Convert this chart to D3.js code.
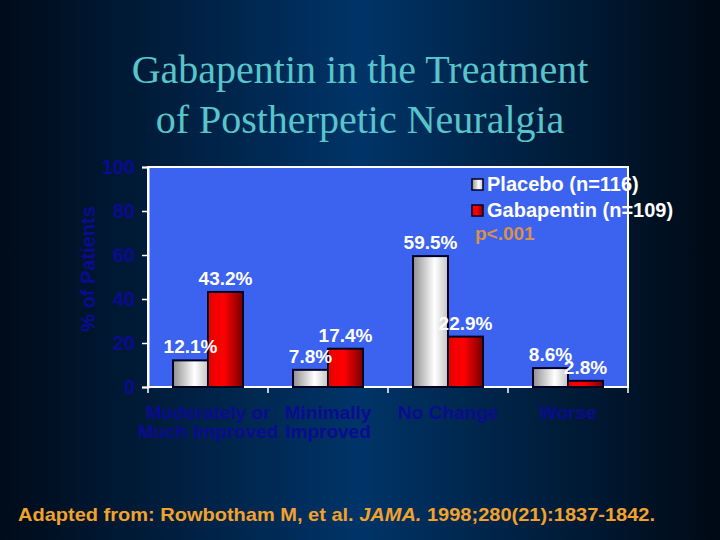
<!DOCTYPE html>
<html><head><meta charset="utf-8">
<script src="https://cdn.jsdelivr.net/npm/d3@7"></script>
<style>html,body{margin:0;padding:0;background:#001a33;}svg{display:block;}</style>
</head><body>
<script>
const categories = ["Moderately or Much Improved", "Minimally Improved", "No Change", "Worse"];
const categoryLines = [["Moderately or", "Much Improved"], ["Minimally", "Improved"], ["No Change"], ["Worse"]];
const series = ["Placebo (n=116)", "Gabapentin (n=109)"];
const placebo = [12.1, 7.8, 59.5, 8.6];
const gabapentin = [43.2, 17.4, 22.9, 2.8];
const yTicks = [0, 20, 40, 60, 80, 100];
const titleLines = ["Gabapentin in the Treatment", "of Postherpetic Neuralgia"];

(function () {
const W = 720, H = 540;
const svg = d3.select("body").append("svg").attr("width", W).attr("height", H);
const defs = svg.append("defs");

const bg = defs.append("linearGradient").attr("id", "bg").attr("x1", "0").attr("x2", "1").attr("y1", "0").attr("y2", "0");
bg.append("stop").attr("offset", "0%").attr("stop-color", "#000b19");
bg.append("stop").attr("offset", "50%").attr("stop-color", "#003468");
bg.append("stop").attr("offset", "100%").attr("stop-color", "#000914");

const gp = defs.append("linearGradient").attr("id", "gp").attr("x1", "0").attr("x2", "1");
gp.append("stop").attr("offset", "0%").attr("stop-color", "#8f8f8f");
gp.append("stop").attr("offset", "62%").attr("stop-color", "#ffffff");
gp.append("stop").attr("offset", "100%").attr("stop-color", "#c4c4c4");

const gr = defs.append("linearGradient").attr("id", "gr").attr("x1", "0").attr("x2", "1");
gr.append("stop").attr("offset", "0%").attr("stop-color", "#e80000");
gr.append("stop").attr("offset", "45%").attr("stop-color", "#ff0000");
gr.append("stop").attr("offset", "100%").attr("stop-color", "#780000");

svg.append("rect").attr("width", W).attr("height", H).attr("fill", "url(#bg)");

// title
svg.append("g").selectAll("text").data(titleLines).join("text")
  .attr("x", 360).attr("y", (d, i) => 83 + i * 50)
  .attr("text-anchor", "middle")
  .attr("font-family", "'Liberation Serif','Times New Roman',serif")
  .attr("font-size", 40).attr("fill", "#58c4cb")
  .text(d => d);

const pL = 148, pR = 628, pT = 167, pB = 387;
const x0 = d3.scaleBand().domain(categories).range([pL, pR]);
const x1 = d3.scaleBand().domain(series).range([25, 95]);
const y = d3.scaleLinear().domain([0, 100]).range([pB, pT]);

svg.append("rect").attr("x", pL).attr("y", pT).attr("width", pR - pL).attr("height", pB - pT)
  .attr("fill", "#3c62f0").attr("stroke", "#ffffff").attr("stroke-width", 2);

// y axis
const yAxis = svg.append("g").attr("transform", `translate(${pL},0)`)
  .call(d3.axisLeft(y).tickValues(yTicks).tickSize(6).tickPadding(7).tickFormat(d3.format("d")));
yAxis.select(".domain").attr("stroke", "#ffffff").attr("stroke-width", 2);
yAxis.selectAll(".tick line").attr("stroke", "#ffffff").attr("stroke-width", 1.5);
yAxis.selectAll(".tick text").attr("fill", "#0b0b92")
  .attr("font-family", "'Liberation Sans',Arial,sans-serif").attr("font-weight", "bold").attr("font-size", 20);

svg.append("text")
  .attr("transform", "translate(95,269) rotate(-90)")
  .attr("text-anchor", "middle")
  .attr("font-family", "'Liberation Sans',Arial,sans-serif").attr("font-weight", "bold").attr("font-size", 20)
  .attr("fill", "#0b0b92").text("% of Patients");

// x axis baseline and ticks at band boundaries
svg.append("line").attr("x1", pL).attr("x2", pR).attr("y1", pB).attr("y2", pB)
  .attr("stroke", "#ffffff").attr("stroke-width", 2);
const bounds = categories.map(c => x0(c)).concat([x0.range()[1]]);
svg.append("g").selectAll("line").data(bounds).join("line")
  .attr("x1", d => d).attr("x2", d => d).attr("y1", pB).attr("y2", pB + 6)
  .attr("stroke", "#ffffff").attr("stroke-width", 1.5);

const xl = svg.append("g").selectAll("text").data(categories).join("text")
  .attr("x", d => x0(d) + x0.bandwidth() / 2)
  .attr("text-anchor", "middle")
  .attr("font-family", "'Liberation Sans',Arial,sans-serif").attr("font-weight", "bold").attr("font-size", 19)
  .attr("fill", "#0b0b92");
xl.each(function(d, i) {
  d3.select(this).selectAll("tspan").data(categoryLines[i]).join("tspan")
    .attr("x", x0(d) + x0.bandwidth() / 2)
    .attr("y", (t, j) => 419 + j * 19)
    .text(t => t);
});

// bars
const rows = categories.map((c, i) => ({c, vals: [placebo[i], gabapentin[i]]}));
const fills = ["url(#gp)", "url(#gr)"];
const gBars = svg.append("g");
rows.forEach(r => {
  r.vals.forEach((v, j) => {
    const xx = x0(r.c) + x1(series[j]);
    gBars.append("rect").attr("x", xx).attr("y", y(v)).attr("width", x1.bandwidth()).attr("height", y(0) - y(v))
      .attr("fill", fills[j]).attr("stroke", "#000022").attr("stroke-width", 2);
  });
});
rows.forEach(r => {
  r.vals.forEach((v, j) => {
    const xx = x0(r.c) + x1(series[j]) + x1.bandwidth() / 2;
    gBars.append("text").attr("x", xx).attr("y", y(v) - 7).attr("text-anchor", "middle")
      .attr("font-family", "'Liberation Sans',Arial,sans-serif").attr("font-weight", "bold").attr("font-size", 19)
      .attr("fill", "#ffffff").text(v.toFixed(1) + "%");
  });
});

// legend
const lg = svg.append("g");
series.forEach((s, i) => {
  lg.append("rect").attr("x", 472).attr("y", 179 + i * 26).attr("width", 11).attr("height", 11)
    .attr("fill", fills[i]).attr("stroke", "#000022").attr("stroke-width", 1.5);
  lg.append("text").attr("x", 487).attr("y", 191 + i * 26)
    .attr("font-family", "'Liberation Sans',Arial,sans-serif").attr("font-weight", "bold").attr("font-size", 20)
    .attr("fill", "#ffffff").text(s);
});
lg.append("text").attr("x", 475).attr("y", 240)
  .attr("font-family", "'Liberation Sans',Arial,sans-serif").attr("font-weight", "bold").attr("font-size", 19)
  .attr("fill", "#d8914a").text("p<.001");

// footer
const ft = svg.append("text").attr("x", 18).attr("y", 521)
  .attr("font-family", "'Liberation Sans',Arial,sans-serif").attr("font-weight", "bold").attr("font-size", 19)
  .attr("fill", "#f2a22c")
  .attr("textLength", 637).attr("lengthAdjust", "spacingAndGlyphs");
ft.append("tspan").text("Adapted from: Rowbotham M, et al. ");
ft.append("tspan").attr("font-style", "italic").text("JAMA.");
ft.append("tspan").text(" 1998;280(21):1837-1842.");
})();
</script>
</body></html>
